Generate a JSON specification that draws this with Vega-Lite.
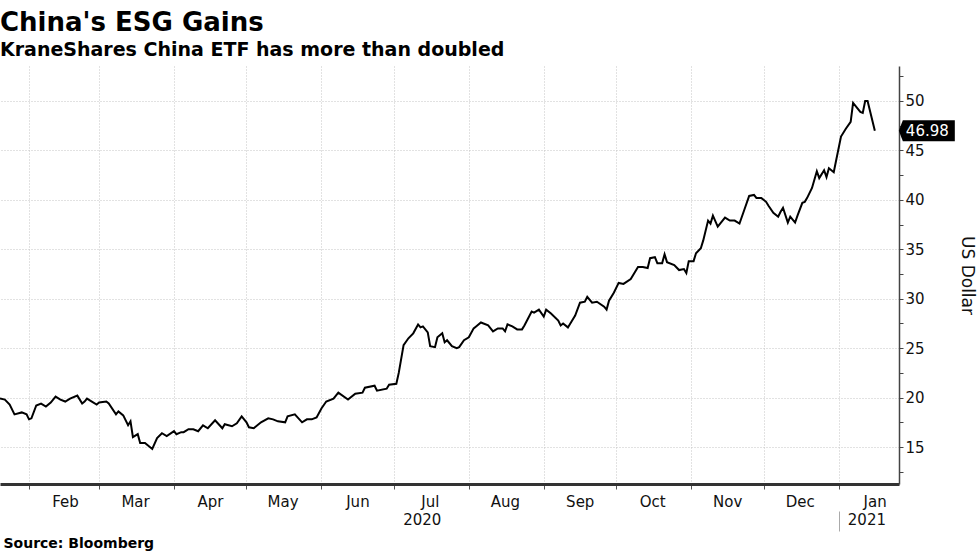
{
  "$schema": "https://vega.github.io/schema/vega-lite/v6.json",
  "width": 899,
  "height": 418,
  "autosize": {"type": "none"},
  "padding": {"left": 0, "top": 66, "right": 81, "bottom": 67},
  "background": "white",
  "title": {
    "text": "China's ESG Gains",
    "subtitle": "KraneShares China ETF has more than doubled",
    "anchor": "start",
    "frame": "group",
    "fontSize": 26,
    "fontWeight": "bold",
    "subtitleFontSize": 19,
    "subtitleFontWeight": "bold",
    "subtitleColor": "#000",
    "color": "#000",
    "font": "DejaVu Sans",
    "subtitleFont": "DejaVu Sans",
    "subtitlePadding": 5,
    "offset": 6
  },
  "config": {
    "font": "DejaVu Sans",
    "view": {"stroke": null},
    "axis": {"labelColor": "#111", "labelFont": "DejaVu Sans", "titleFont": "DejaVu Sans", "titleColor": "#111"}
  },
  "data": {
    "format": {"parse": {"date": "date:'%Y-%m-%d'"}},
    "values": [
      {"date": "2020-01-20", "price": 19.9},
      {"date": "2020-01-22", "price": 19.8},
      {"date": "2020-01-24", "price": 19.3},
      {"date": "2020-01-26", "price": 18.3},
      {"date": "2020-01-29", "price": 18.5},
      {"date": "2020-01-31", "price": 18.3},
      {"date": "2020-02-01", "price": 17.8},
      {"date": "2020-02-02", "price": 17.9},
      {"date": "2020-02-04", "price": 19.2},
      {"date": "2020-02-06", "price": 19.4},
      {"date": "2020-02-08", "price": 19.1},
      {"date": "2020-02-10", "price": 19.5},
      {"date": "2020-02-12", "price": 20.1},
      {"date": "2020-02-14", "price": 19.8},
      {"date": "2020-02-16", "price": 19.6},
      {"date": "2020-02-18", "price": 19.9},
      {"date": "2020-02-21", "price": 20.2},
      {"date": "2020-02-23", "price": 19.4},
      {"date": "2020-02-24", "price": 19.6},
      {"date": "2020-02-25", "price": 19.9},
      {"date": "2020-02-27", "price": 19.6},
      {"date": "2020-02-29", "price": 19.3},
      {"date": "2020-03-01", "price": 19.5},
      {"date": "2020-03-04", "price": 19.6},
      {"date": "2020-03-05", "price": 19.4},
      {"date": "2020-03-08", "price": 18.3},
      {"date": "2020-03-09", "price": 18.6},
      {"date": "2020-03-11", "price": 18.2},
      {"date": "2020-03-13", "price": 17.2},
      {"date": "2020-03-14", "price": 17.6},
      {"date": "2020-03-15", "price": 16.0},
      {"date": "2020-03-17", "price": 16.3},
      {"date": "2020-03-18", "price": 15.4},
      {"date": "2020-03-20", "price": 15.4},
      {"date": "2020-03-21", "price": 15.2},
      {"date": "2020-03-23", "price": 14.8},
      {"date": "2020-03-25", "price": 15.9},
      {"date": "2020-03-27", "price": 16.4},
      {"date": "2020-03-29", "price": 16.1},
      {"date": "2020-04-01", "price": 16.6},
      {"date": "2020-04-02", "price": 16.3},
      {"date": "2020-04-04", "price": 16.5},
      {"date": "2020-04-05", "price": 16.5},
      {"date": "2020-04-07", "price": 16.8},
      {"date": "2020-04-09", "price": 16.8},
      {"date": "2020-04-11", "price": 16.6},
      {"date": "2020-04-13", "price": 17.2},
      {"date": "2020-04-15", "price": 16.9},
      {"date": "2020-04-18", "price": 17.7},
      {"date": "2020-04-21", "price": 16.9},
      {"date": "2020-04-22", "price": 17.3},
      {"date": "2020-04-25", "price": 17.1},
      {"date": "2020-04-27", "price": 17.4},
      {"date": "2020-04-29", "price": 18.1},
      {"date": "2020-05-01", "price": 17.5},
      {"date": "2020-05-02", "price": 17.0},
      {"date": "2020-05-04", "price": 16.9},
      {"date": "2020-05-07", "price": 17.5},
      {"date": "2020-05-10", "price": 17.9},
      {"date": "2020-05-12", "price": 17.8},
      {"date": "2020-05-14", "price": 17.6},
      {"date": "2020-05-17", "price": 17.5},
      {"date": "2020-05-18", "price": 18.1},
      {"date": "2020-05-21", "price": 18.3},
      {"date": "2020-05-24", "price": 17.5},
      {"date": "2020-05-26", "price": 17.8},
      {"date": "2020-05-28", "price": 17.8},
      {"date": "2020-05-30", "price": 18.0},
      {"date": "2020-06-01", "price": 18.9},
      {"date": "2020-06-03", "price": 19.6},
      {"date": "2020-06-06", "price": 19.9},
      {"date": "2020-06-08", "price": 20.5},
      {"date": "2020-06-12", "price": 19.8},
      {"date": "2020-06-15", "price": 20.4},
      {"date": "2020-06-18", "price": 20.5},
      {"date": "2020-06-19", "price": 21.0},
      {"date": "2020-06-23", "price": 21.2},
      {"date": "2020-06-24", "price": 20.7},
      {"date": "2020-06-28", "price": 20.9},
      {"date": "2020-06-29", "price": 21.3},
      {"date": "2020-07-02", "price": 21.4},
      {"date": "2020-07-03", "price": 22.5},
      {"date": "2020-07-05", "price": 25.3},
      {"date": "2020-07-07", "price": 26.0},
      {"date": "2020-07-09", "price": 26.5},
      {"date": "2020-07-11", "price": 27.4},
      {"date": "2020-07-12", "price": 27.1},
      {"date": "2020-07-13", "price": 27.2},
      {"date": "2020-07-15", "price": 26.6},
      {"date": "2020-07-16", "price": 25.2},
      {"date": "2020-07-18", "price": 25.1},
      {"date": "2020-07-19", "price": 26.1},
      {"date": "2020-07-21", "price": 26.5},
      {"date": "2020-07-22", "price": 25.6},
      {"date": "2020-07-23", "price": 25.8},
      {"date": "2020-07-25", "price": 25.2},
      {"date": "2020-07-27", "price": 25.0},
      {"date": "2020-07-28", "price": 25.1},
      {"date": "2020-07-30", "price": 25.8},
      {"date": "2020-08-01", "price": 26.1},
      {"date": "2020-08-03", "price": 27.0},
      {"date": "2020-08-04", "price": 27.2},
      {"date": "2020-08-06", "price": 27.6},
      {"date": "2020-08-09", "price": 27.3},
      {"date": "2020-08-10", "price": 27.0},
      {"date": "2020-08-11", "price": 26.7},
      {"date": "2020-08-13", "price": 27.0},
      {"date": "2020-08-15", "price": 27.0},
      {"date": "2020-08-16", "price": 26.7},
      {"date": "2020-08-17", "price": 27.4},
      {"date": "2020-08-19", "price": 27.2},
      {"date": "2020-08-21", "price": 26.9},
      {"date": "2020-08-23", "price": 26.9},
      {"date": "2020-08-24", "price": 27.3},
      {"date": "2020-08-27", "price": 28.7},
      {"date": "2020-08-28", "price": 28.6},
      {"date": "2020-08-30", "price": 28.9},
      {"date": "2020-09-01", "price": 28.2},
      {"date": "2020-09-02", "price": 28.9},
      {"date": "2020-09-04", "price": 28.5},
      {"date": "2020-09-07", "price": 27.8},
      {"date": "2020-09-08", "price": 27.3},
      {"date": "2020-09-09", "price": 27.5},
      {"date": "2020-09-11", "price": 27.1},
      {"date": "2020-09-13", "price": 27.9},
      {"date": "2020-09-14", "price": 28.3},
      {"date": "2020-09-16", "price": 29.6},
      {"date": "2020-09-18", "price": 29.7},
      {"date": "2020-09-19", "price": 30.2},
      {"date": "2020-09-21", "price": 29.6},
      {"date": "2020-09-23", "price": 29.7},
      {"date": "2020-09-26", "price": 29.2},
      {"date": "2020-09-27", "price": 28.9},
      {"date": "2020-09-28", "price": 29.8},
      {"date": "2020-09-30", "price": 30.6},
      {"date": "2020-10-02", "price": 31.6},
      {"date": "2020-10-04", "price": 31.5},
      {"date": "2020-10-07", "price": 32.0},
      {"date": "2020-10-10", "price": 33.2},
      {"date": "2020-10-12", "price": 33.2},
      {"date": "2020-10-14", "price": 33.1},
      {"date": "2020-10-15", "price": 34.1},
      {"date": "2020-10-17", "price": 34.2},
      {"date": "2020-10-18", "price": 33.6},
      {"date": "2020-10-20", "price": 33.6},
      {"date": "2020-10-21", "price": 34.5},
      {"date": "2020-10-22", "price": 33.7},
      {"date": "2020-10-25", "price": 33.4},
      {"date": "2020-10-27", "price": 32.9},
      {"date": "2020-10-29", "price": 33.0},
      {"date": "2020-10-30", "price": 32.6},
      {"date": "2020-10-31", "price": 33.8},
      {"date": "2020-11-02", "price": 33.8},
      {"date": "2020-11-03", "price": 34.6},
      {"date": "2020-11-05", "price": 35.1},
      {"date": "2020-11-06", "price": 35.9},
      {"date": "2020-11-08", "price": 37.9},
      {"date": "2020-11-09", "price": 37.6},
      {"date": "2020-11-10", "price": 38.4},
      {"date": "2020-11-12", "price": 37.3},
      {"date": "2020-11-15", "price": 38.2},
      {"date": "2020-11-17", "price": 37.9},
      {"date": "2020-11-19", "price": 37.9},
      {"date": "2020-11-21", "price": 37.6},
      {"date": "2020-11-23", "price": 39.0},
      {"date": "2020-11-25", "price": 40.4},
      {"date": "2020-11-27", "price": 40.5},
      {"date": "2020-11-28", "price": 40.2},
      {"date": "2020-11-30", "price": 40.2},
      {"date": "2020-12-02", "price": 39.8},
      {"date": "2020-12-03", "price": 39.4},
      {"date": "2020-12-05", "price": 38.7},
      {"date": "2020-12-07", "price": 38.3},
      {"date": "2020-12-08", "price": 38.8},
      {"date": "2020-12-09", "price": 39.2},
      {"date": "2020-12-11", "price": 37.7},
      {"date": "2020-12-12", "price": 38.3},
      {"date": "2020-12-14", "price": 37.7},
      {"date": "2020-12-15", "price": 38.4},
      {"date": "2020-12-17", "price": 39.7},
      {"date": "2020-12-18", "price": 39.8},
      {"date": "2020-12-19", "price": 40.2},
      {"date": "2020-12-21", "price": 41.2},
      {"date": "2020-12-23", "price": 42.9},
      {"date": "2020-12-24", "price": 42.2},
      {"date": "2020-12-26", "price": 43.0},
      {"date": "2020-12-27", "price": 42.3},
      {"date": "2020-12-28", "price": 43.2},
      {"date": "2020-12-30", "price": 42.8},
      {"date": "2020-12-31", "price": 44.0},
      {"date": "2021-01-02", "price": 46.4},
      {"date": "2021-01-04", "price": 47.2},
      {"date": "2021-01-06", "price": 47.9},
      {"date": "2021-01-07", "price": 49.8},
      {"date": "2021-01-10", "price": 48.9},
      {"date": "2021-01-11", "price": 48.8},
      {"date": "2021-01-12", "price": 50.0},
      {"date": "2021-01-13", "price": 50.0},
      {"date": "2021-01-16", "price": 46.98}
    ]
  },
  "encoding": {
    "x": {
      "field": "date",
      "type": "temporal",
      "scale": {"domain": [{"year": 2020, "month": 1, "date": 20}, {"year": 2021, "month": 1, "date": 26}], "nice": false}
    },
    "y": {
      "field": "price",
      "type": "quantitative",
      "scale": {"domain": [11.26, 53.54], "nice": false, "zero": false}
    }
  },
  "layer": [
    {
      "mark": {"type": "line", "color": "#000", "strokeWidth": 2, "interpolate": "linear"},
      "encoding": {
        "x": {
          "field": "date",
          "type": "temporal",
          "axis": {
            "orient": "bottom",
            "title": null,
            "tickCount": {"interval": "month", "step": 1},
            "format": "%b",
            "labelOffset": 36,
            "labelAlign": "center",
            "labelFlush": false,
            "labelOverlap": false,
            "labelBound": false,
            "labelFontSize": 15,
            "labelPadding": 5,
            "tickSize": 5,
            "tickColor": "#555",
            "grid": true,
            "gridColor": "#c4c4c4",
            "gridDash": [1, 2],
            "domainColor": "#333",
            "domainWidth": 3
          }
        },
        "y": {
          "field": "price",
          "type": "quantitative",
          "axis": {
            "orient": "right",
            "values": [15, 20, 25, 30, 35, 40, 45, 50],
            "title": "US Dollar",
            "titleFontSize": 17,
            "titleFontWeight": "normal",
            "titlePadding": 33,
            "labelFontSize": 15,
            "labelPadding": 2,
            "tickSize": 4,
            "tickColor": "#444",
            "grid": true,
            "gridColor": "#c4c4c4",
            "gridDash": [1, 2],
            "domainColor": "#444",
            "domainWidth": 1.5
          }
        }
      }
    },
    {
      "transform": [
        {"window": [{"op": "row_number", "as": "rn"}], "sort": [{"field": "date", "order": "descending"}]},
        {"filter": "datum.rn == 1"}
      ],
      "mark": {
        "type": "point",
        "filled": true,
        "opacity": 1,
        "color": "#000",
        "size": 3136,
        "shape": "M0.857,0L1,-0.375L2.857,-0.375L2.857,0.375L1,0.375Z"
      },
      "encoding": {
        "x": {
          "field": "date",
          "type": "temporal",
          "axis": {
            "orient": "bottom",
            "values": [{"year": 2020, "month": 7, "date": 15}, {"year": 2021, "month": 1, "date": 15}],
            "format": "%Y",
            "labelOffset": -6,
            "labelAlign": "center",
            "labelFontSize": 15,
            "labelPadding": 28,
            "labelFlush": false,
            "labelBound": false,
            "ticks": false,
            "domain": false,
            "grid": false,
            "title": "Source: Bloomberg",
            "titleAnchor": "start",
            "titleAlign": "left",
            "titleX": 3,
            "titleY": 63,
            "titleBaseline": "alphabetic",
            "titleFontSize": 14,
            "titleFontWeight": "bold",
            "titleColor": "#000"
          }
        },
        "y": {
          "field": "price",
          "type": "quantitative",
          "axis": {
            "orient": "right",
            "values": [12.5, 17.5, 22.5, 27.5, 32.5, 37.5, 42.5, 47.5, 52.5],
            "labels": false,
            "grid": false,
            "domain": false,
            "tickSize": 4,
            "tickColor": "#444",
            "title": null
          }
        }
      }
    },
    {
      "transform": [
        {"window": [{"op": "row_number", "as": "rn"}], "sort": [{"field": "date", "order": "descending"}]},
        {"filter": "datum.rn == 1"}
      ],
      "mark": {"type": "text", "color": "#fff", "fontSize": 15, "align": "left", "baseline": "middle", "dx": 31, "font": "DejaVu Sans"},
      "encoding": {
        "x": {
          "field": "date",
          "type": "temporal",
          "axis": {
            "orient": "bottom",
            "values": [{"year": 2021, "month": 1, "date": 1}],
            "labels": false,
            "domain": false,
            "grid": false,
            "offset": 27,
            "tickSize": 20,
            "tickColor": "#aaa",
            "title": null
          }
        },
        "y": {"field": "price", "type": "quantitative", "axis": null},
        "text": {"field": "price", "type": "quantitative", "format": ".2f"}
      }
    }
  ],
  "resolve": {"axis": {"x": "independent", "y": "independent"}}
}
